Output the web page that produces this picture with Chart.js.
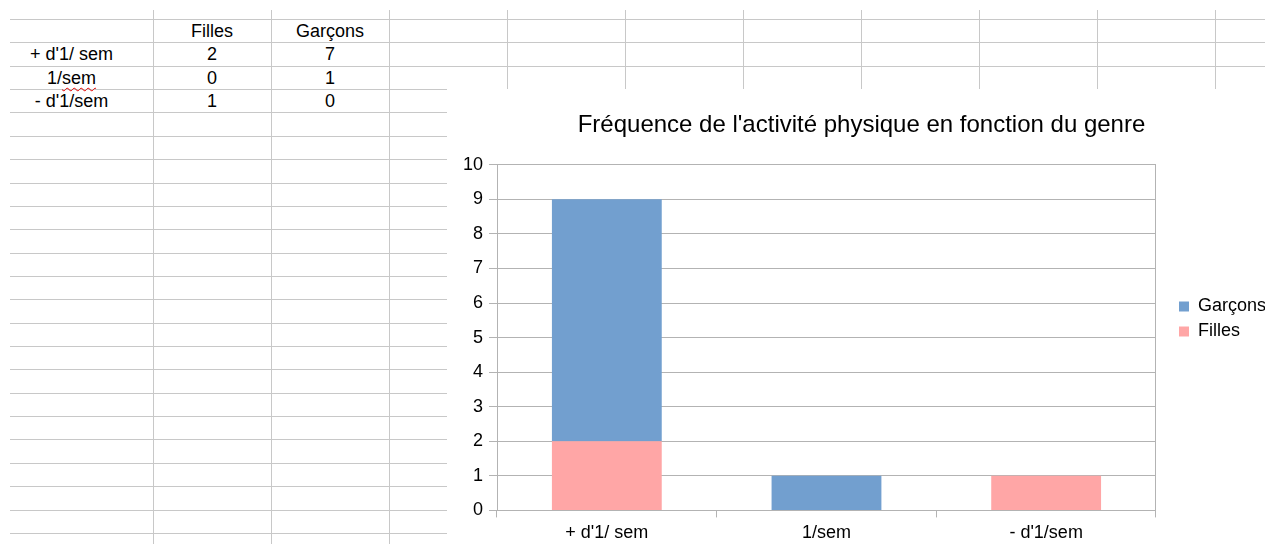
<!DOCTYPE html>
<html>
<head>
<meta charset="utf-8">
<script src="https://cdn.jsdelivr.net/npm/chart.js"></script>
<style>
  body { margin: 0; width: 1265px; height: 544px; overflow: hidden; background: #fff;
         font-family: "Liberation Sans", Arial, sans-serif; position: relative; }
  .hl { position: absolute; height: 1px; background: #c8c8c8; }
  .vl { position: absolute; width: 1px; background: #c8c8c8; }
  .cell { position: absolute; font-size: 18px; line-height: 23px; height: 23px; text-align: center; color: #000; white-space: pre; }
  .faute { text-decoration: underline wavy #e00000; text-decoration-thickness: 1px; text-underline-offset: 3px; }
  #wrap { position: absolute; left: 447px; top: 89px; background: #fff; }
  #graphique { display: block; }
</style>
</head>
<body>
<div id="feuille"></div>
<div id="wrap"><canvas id="graphique" width="829" height="460"></canvas></div>
<script>
// donnees du tableau / graphique
const categories = ["+ d'1/ sem", "1/sem", "- d'1/sem"];
const filles = [2, 0, 1];
const garcons = [7, 1, 0];
const series = ['Filles', 'Garçons'];
const yMin = 0;
const yMax = 10;
const yStep = 1;

const titre = "Fréquence de l'activité physique en fonction du genre";

// grille du tableur
const feuille = document.getElementById('feuille');
const hauteurLigne = 23.36;
const colonnes = [153, 271, 389, 507, 625, 743, 861, 979, 1097, 1215];

function ligneY(k) { return Math.round(19 + k * hauteurLigne); }

for (let k = 0; k < 23; k++) {
    const d = document.createElement('div');
    d.className = 'hl';
    d.style.left = '10px';
    d.style.top = ligneY(k) + 'px';
    d.style.width = (k < 3 ? 1255 : 437) + 'px';
    feuille.appendChild(d);
}
colonnes.forEach(x => {
    const d = document.createElement('div');
    d.className = 'vl';
    d.style.left = x + 'px';
    d.style.top = '10px';
    d.style.height = '534px';
    feuille.appendChild(d);
});

function cellule(texte, gauche, largeur, rang, html) {
    const d = document.createElement('div');
    d.className = 'cell';
    d.style.left = gauche + 'px';
    d.style.width = largeur + 'px';
    d.style.top = (ligneY(rang) + 1) + 'px';
    if (html) d.innerHTML = html; else d.textContent = texte;
    feuille.appendChild(d);
}

cellule(series[0], 153, 118, 0);
cellule(series[1], 271, 118, 0);
categories.forEach((cat, i) => {
    if (cat === '1/sem') cellule(cat, 10, 123, i + 1, '1/<span class="faute">sem</span>');
    else cellule(cat, 10, 123, i + 1);
    cellule(String(filles[i]), 153, 118, i + 1);
    cellule(String(garcons[i]), 271, 118, i + 1);
});

// graphique
Chart.defaults.font.family = '"Liberation Sans", Arial, sans-serif';
Chart.defaults.color = '#000';

const gris = '#b3b3b3';

new Chart(document.getElementById('graphique'), {
    type: 'bar',
    data: {
        labels: categories,
        datasets: [
            { label: series[0], data: filles, backgroundColor: '#ffa6a6' },
            { label: series[1], data: garcons, backgroundColor: '#729fcf' }
        ]
    },
    options: {
        responsive: false,
        animation: false,
        devicePixelRatio: 1,
        layout: { padding: 0 },
        datasets: { bar: { categoryPercentage: 1, barPercentage: 0.5 } },
        plugins: {
            title: {
                display: true,
                text: titre,
                font: { size: 24, weight: 'normal' },
                color: '#000',
                padding: { top: 22, bottom: 25 }
            },
            legend: {
                position: 'right',
                reverse: true,
                labels: { boxWidth: 10, boxHeight: 10, padding: 7, font: { size: 18 }, color: '#000' }
            },
            tooltip: { enabled: false }
        },
        scales: {
            x: {
                stacked: true,
                grid: { offset: true, drawOnChartArea: false, tickLength: 7, tickColor: gris },
                border: { color: gris },
                ticks: { font: { size: 18 }, padding: 5, maxRotation: 0 }
            },
            y: {
                stacked: true,
                min: yMin,
                max: yMax,
                ticks: { stepSize: yStep, font: { size: 18 }, padding: 6 },
                grid: { color: gris, tickLength: 8 },
                border: { color: gris },
                afterFit: s => { s.width = 50; }
            },
            y2: {
                position: 'right',
                grid: { display: false },
                ticks: { display: false },
                border: { color: gris },
                afterFit: s => { s.width = 16; }
            }
        }
    }
});
</script>
</body>
</html>
